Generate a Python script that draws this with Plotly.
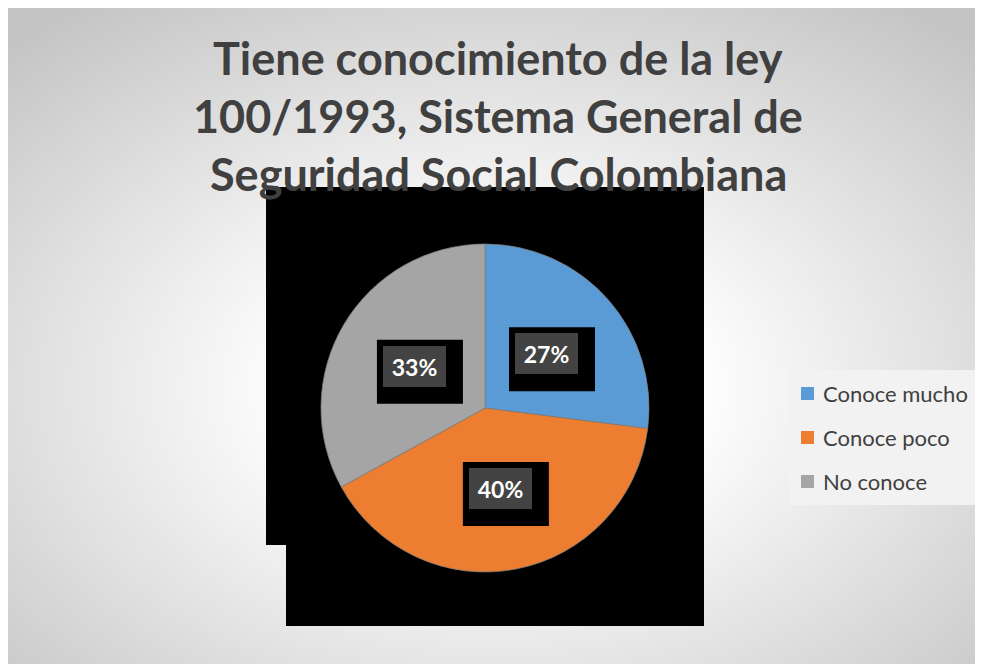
import base64
import math
import plotly.graph_objects as go

W, H = 983, 664
OFF = 8  # the page body margin pushes the figure 8px right and down

# data
title_lines = ['Tiene conocimiento de la ley',
               '100/1993, Sistema General de',
               'Seguridad Social Colombiana']
labels = ['Conoce mucho', 'Conoce poco', 'No conoce']
values = [27, 40, 33]
colors = ['#5b9bd5', '#ed7d31', '#a5a5a5']


def px(x):
    return (x - OFF) / W


def py(y):
    return 1 - (y - OFF) / H


# pie geometry (pixels in the screenshot)
cx, cy, R = 485, 408, 164

# radial gradient background as an svg image
svg = ('<svg xmlns="http://www.w3.org/2000/svg" width="977" height="658" '
       'viewBox="0 0 977 658" preserveAspectRatio="none"><defs>'
       '<radialGradient id="g" cx="0.5" cy="0.58" r="0.72">'
       '<stop offset="0" stop-color="#ffffff"/>'
       '<stop offset="0.3" stop-color="#fdfdfd"/>'
       '<stop offset="1" stop-color="#c4c4c4"/>'
       '</radialGradient></defs>'
       '<rect width="977" height="658" fill="url(#g)"/></svg>')
bg_src = 'data:image/svg+xml;base64,' + base64.b64encode(svg.encode()).decode()

fig = go.Figure(go.Pie(
    labels=labels,
    values=values,
    sort=False,
    direction='clockwise',
    rotation=0,
    marker=dict(colors=colors, line=dict(color='#7f7f7f', width=0.75)),
    textinfo='none',
    hoverinfo='label+percent',
    domain=dict(x=[px(cx - R), px(cx + R)], y=[py(cy + R), py(cy - R)]),
))

shapes = [
    # black blocks behind the pie
    dict(type='rect', xref='paper', yref='paper', x0=px(266), x1=px(704), y0=py(545), y1=py(187),
         fillcolor='black', line_width=0, layer='below'),
    dict(type='rect', xref='paper', yref='paper', x0=px(286), x1=px(704), y0=py(626), y1=py(545),
         fillcolor='black', line_width=0, layer='below'),
]
annotations = []

# title lines
for i, line in enumerate(title_lines):
    annotations.append(dict(
        text='<b>' + line + '</b>', x=px(498), y=py(58 + i * 58), xref='paper', yref='paper',
        xanchor='center', yanchor='middle', showarrow=False,
        font=dict(family='Lato', size=45, color='#404040')))

# percent labels at half radius on each slice's mid angle
total = sum(values)
cum = 0
for v in values:
    mid = (cum + v / 2) / total * 2 * math.pi
    cum += v
    lx = cx + 0.5 * R * math.sin(mid)
    ly = cy - 0.5 * R * math.cos(mid)
    shapes.append(dict(type='rect', xref='paper', yref='paper',
                       x0=px(lx + 5.5 - 43), x1=px(lx + 5.5 + 43),
                       y0=py(ly + 5.5 + 32), y1=py(ly + 5.5 - 32),
                       fillcolor='black', line_width=0, layer='above'))
    annotations.append(dict(
        text='<b>%d%%</b>' % round(v / total * 100), x=px(lx), y=py(ly),
        xref='paper', yref='paper', xanchor='center', yanchor='middle',
        showarrow=False, width=63, height=41, bgcolor='#434343',
        borderwidth=0, borderpad=0,
        font=dict(family='Lato', size=23, color='white')))

# legend
shapes.append(dict(type='rect', xref='paper', yref='paper', x0=px(789), x1=px(975),
                   y0=py(505), y1=py(370), fillcolor='#f2f2f2', line_width=0, layer='above'))
for i, (lab, col) in enumerate(zip(labels, colors)):
    yc = 393.5 + i * 44
    shapes.append(dict(type='rect', xref='paper', yref='paper', x0=px(801), x1=px(814),
                       y0=py(yc + 6.5), y1=py(yc - 6.5), fillcolor=col, line_width=0,
                       layer='above'))
    annotations.append(dict(
        text=lab, x=px(821), y=py(yc), xref='paper', yref='paper',
        xanchor='left', yanchor='middle', showarrow=False,
        font=dict(family='Lato', size=22, color='#404040')))

fig.update_layout(
    width=W, height=H,
    margin=dict(l=0, r=0, t=0, b=0),
    paper_bgcolor='white',
    showlegend=False,
    shapes=shapes,
    annotations=annotations,
    images=[dict(source=bg_src, xref='paper', yref='paper', x=px(6), y=py(6),
                 sizex=(983 - 6) / W, sizey=(664 - 6) / H, xanchor='left', yanchor='top',
                 sizing='stretch', layer='below')],
)

fig.write_html('out.html')
